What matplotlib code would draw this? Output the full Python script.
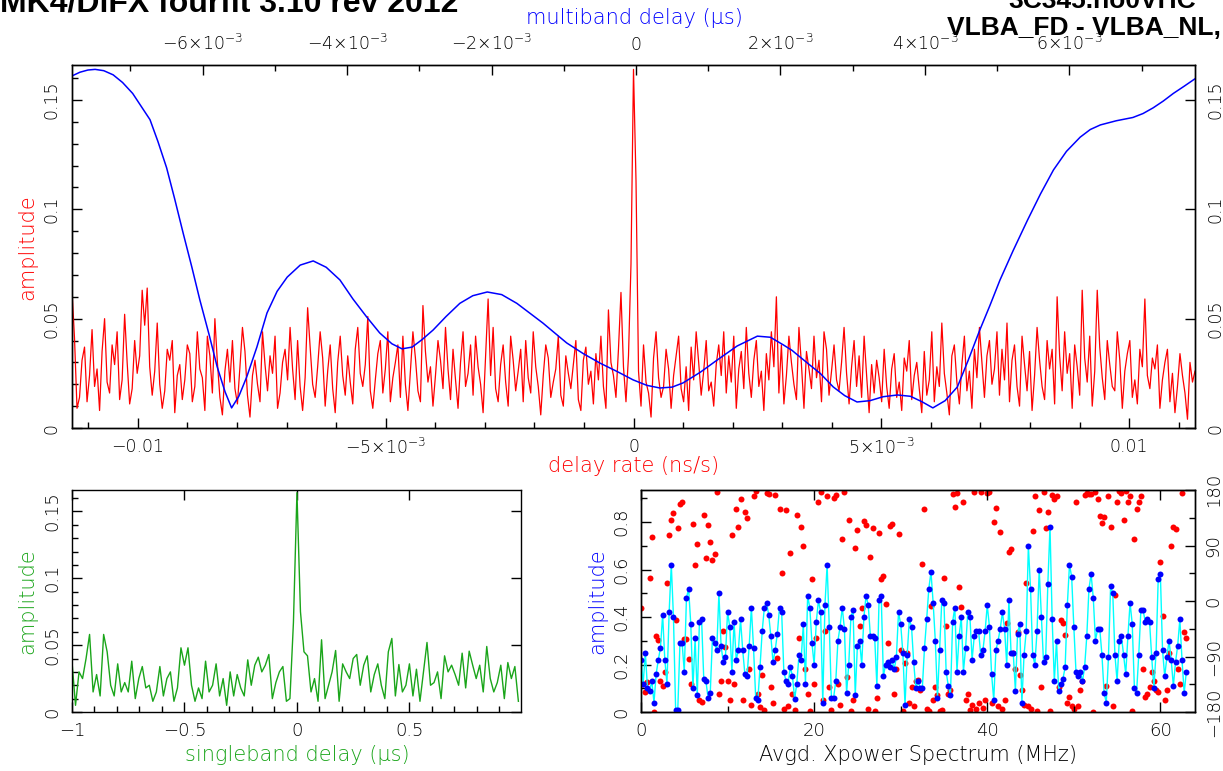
import numpy as np
import matplotlib
matplotlib.use("Agg")
import matplotlib.pyplot as plt
from matplotlib.ticker import MultipleLocator, FixedLocator, FixedFormatter, FuncFormatter

W, H = 1223, 771
FONT = "DejaVu Sans"
RED, BLUE, GREEN, CYAN = "#ff0000", "#0000ff", "#1aa51a", "#00ffff"

# delay-rate spectrum amplitude (x1000), evenly sampled across +/- rate_lim ns/s
rate_lim = 0.01133
rate_amp_milli = [
    63, 41, 9, 14, 31, 37, 12, 24, 45, 19, 27, 8, 35, 50, 21, 16,
    38, 29, 44, 13, 22, 52, 30, 11, 18, 40, 25, 33, 63, 47, 64, 28,
    15, 26, 48, 20, 9, 17, 36, 31, 40, 7, 24, 29, 13, 22, 38, 34,
    12, 19, 44, 27, 23, 8, 42, 33, 16, 50, 30, 14, 6, 26, 36, 21,
    40, 18, 11, 28, 46, 35, 15, 5, 24, 31, 20, 12, 44, 29, 17, 33,
    25, 42, 9, 16, 30, 36, 22, 46, 27, 13, 40, 19, 8, 23, 55, 37,
    20, 14, 28, 44, 32, 10, 26, 38, 18, 7, 30, 42, 24, 15, 33, 21,
    11, 36, 46, 25, 19, 29, 51, 17, 9, 22, 34, 40, 16, 27, 44, 12,
    23, 30, 38, 14, 42, 20, 8, 26, 44, 32, 17, 12, 56, 35, 21, 28,
    10, 24, 40, 31, 18, 46, 27, 13, 36, 22, 9, 30, 44, 19, 25, 38,
    15, 42, 28, 20, 7, 33, 59, 24, 46, 18, 12, 29, 38, 21, 10, 42,
    31, 17, 26, 36, 12, 40, 23, 16, 44, 28, 19, 6, 24, 38, 32, 14,
    21, 27, 42, 15, 10, 33, 25, 18, 29, 40, 13, 8, 31, 37, 20, 26,
    11, 34, 22, 42, 19, 9, 54, 30, 24, 14, 36, 62, 28, 12, 33, 75,
    164, 113, 26, 10, 38, 21, 16, 5, 32, 44, 23, 14, 19, 36, 27, 9,
    24, 33, 42, 18, 12, 28, 8, 37, 22, 44, 30, 15, 26, 40, 17, 21,
    10, 29, 38, 24, 44, 16, 33, 21, 42, 9, 27, 35, 18, 46, 25, 14,
    31, 40, 19, 26, 8, 34, 22, 44, 28, 60, 16, 38, 11, 24, 42, 30,
    20, 13, 46, 29, 9, 35, 27, 18, 42, 23, 31, 12, 44, 36, 15, 26,
    38, 22, 17, 30, 46, 25, 11, 28, 40, 19, 33, 14, 42, 24, 7, 29,
    16, 31, 23, 12, 36, 19, 9, 27, 34, 14, 21, 8, 32, 26, 40, 13,
    24, 30, 18, 7, 35, 15, 22, 44, 12, 28, 19, 48, 25, 16, 6, 33,
    38, 21, 11, 29, 42, 17, 26, 9, 36, 23, 46, 30, 14, 33, 40, 20,
    27, 44, 15, 36, 22, 48, 12, 31, 38, 19, 10, 42, 29, 17, 35, 8,
    24, 46, 31, 19, 13, 40, 27, 36, 11, 60, 33, 17, 44, 25, 34, 9,
    38, 28, 15, 63, 32, 21, 42, 10, 26, 63, 37, 23, 13, 40, 29, 19,
    17, 44, 31, 9, 26, 34, 40, 14, 22, 11, 36, 28, 59, 24, 18, 32,
    27, 38, 9, 22, 30, 36, 12, 25, 7, 19, 34, 24, 16, 4, 30, 21,
    26,
]

# multiband delay function (ms of us -> written in us, amplitude)
mbd_us = [
    -7.81e-3, -7.70e-3, -7.59e-3, -7.49e-3, -7.37e-3, -7.24e-3, -7.11e-3, -6.97e-3,
    -6.86e-3, -6.73e-3, -6.62e-3, -6.50e-3, -6.39e-3, -6.27e-3, -6.15e-3, -6.04e-3,
    -5.91e-3, -5.80e-3, -5.69e-3, -5.60e-3, -5.50e-3, -5.39e-3, -5.25e-3, -5.11e-3,
    -4.97e-3, -4.83e-3, -4.65e-3, -4.47e-3, -4.29e-3, -4.10e-3, -3.92e-3, -3.73e-3,
    -3.55e-3, -3.38e-3, -3.24e-3, -3.10e-3, -2.96e-3, -2.81e-3, -2.63e-3, -2.44e-3,
    -2.26e-3, -2.06e-3, -1.86e-3, -1.65e-3, -1.47e-3, -1.29e-3, -1.12e-3, -0.96e-3,
    -0.73e-3, -0.50e-3, -0.26e-3, -0.04e-3, 0.15e-3, 0.33e-3, 0.50e-3, 0.65e-3,
    0.89e-3, 1.12e-3, 1.40e-3, 1.68e-3, 1.86e-3, 2.04e-3, 2.16e-3, 2.27e-3,
    2.41e-3, 2.55e-3, 2.73e-3, 2.89e-3, 3.06e-3, 3.24e-3, 3.42e-3, 3.62e-3,
    3.80e-3, 3.96e-3, 4.11e-3, 4.28e-3, 4.45e-3, 4.60e-3, 4.76e-3, 4.90e-3,
    5.04e-3, 5.22e-3, 5.42e-3, 5.60e-3, 5.78e-3, 5.96e-3, 6.15e-3, 6.29e-3,
    6.43e-3, 6.65e-3, 6.88e-3, 7.02e-3, 7.16e-3, 7.30e-3, 7.44e-3, 7.59e-3,
    7.74e-3,
]
mbd_amp = [
    0.161, 0.1627, 0.1637, 0.164, 0.1634, 0.1615, 0.158, 0.153,
    0.1475, 0.141, 0.131, 0.119, 0.105, 0.089, 0.0735, 0.0586,
    0.0425, 0.028, 0.0165, 0.0092, 0.0145, 0.0234, 0.037, 0.0526,
    0.0625, 0.069, 0.0745, 0.0764, 0.0735, 0.0677, 0.059, 0.0508,
    0.0435, 0.0385, 0.0362, 0.037, 0.0405, 0.0448, 0.051, 0.057,
    0.0605, 0.0622, 0.061, 0.057, 0.0525, 0.048, 0.0433, 0.0389,
    0.034, 0.0297, 0.0258, 0.022, 0.0195, 0.0183, 0.0187, 0.0206,
    0.0255, 0.031, 0.0375, 0.042, 0.0415, 0.038, 0.0355, 0.0325,
    0.0287, 0.025, 0.0188, 0.0148, 0.0119, 0.0125, 0.0143, 0.0151,
    0.0145, 0.012, 0.0092, 0.0125, 0.0188, 0.031, 0.0448, 0.056,
    0.0677, 0.081, 0.095, 0.107, 0.118, 0.1265, 0.133, 0.1365,
    0.1386, 0.1405, 0.142, 0.1438, 0.1464, 0.1495, 0.153, 0.1563,
    0.1597,
]

# singleband delay function, 128 lags from -1 us
sbd_amp = [
    0.0375, 0.005, 0.030, 0.025, 0.040, 0.058, 0.015, 0.028,
    0.012, 0.058, 0.045, 0.020, 0.012, 0.036, 0.015, 0.022,
    0.015, 0.038, 0.010, 0.025, 0.034, 0.018, 0.020, 0.008,
    0.015, 0.034, 0.012, 0.025, 0.030, 0.008, 0.018, 0.048,
    0.035, 0.048, 0.020, 0.008, 0.018, 0.010, 0.038, 0.015,
    0.020, 0.036, 0.012, 0.025, 0.005, 0.030, 0.012, 0.028,
    0.018, 0.012, 0.039, 0.020, 0.035, 0.041, 0.030, 0.035,
    0.043, 0.010, 0.022, 0.030, 0.034, 0.008, 0.010, 0.067,
    0.164, 0.075, 0.045, 0.042, 0.015, 0.025, 0.008, 0.054,
    0.010, 0.020, 0.030, 0.046, 0.008, 0.036, 0.030, 0.025,
    0.040, 0.043, 0.020, 0.035, 0.042, 0.015, 0.028, 0.036,
    0.020, 0.010, 0.045, 0.055, 0.012, 0.0355, 0.015, 0.020,
    0.036, 0.012, 0.032, 0.008, 0.030, 0.052, 0.020, 0.022,
    0.030, 0.010, 0.042, 0.030, 0.035, 0.028, 0.020, 0.044,
    0.018, 0.0455, 0.035, 0.025, 0.035, 0.015, 0.049, 0.025,
    0.015, 0.022, 0.035, 0.010, 0.037, 0.025, 0.034, 0.008,
]

# averaged cross-power spectrum, 0.25 MHz channels
xp_step_mhz = 0.25
xp_amp = [
    0.22, 0.12, 0.25, 0.10, 0.09, 0.13, 0.04, 0.16, 0.22, 0.27, 0.41, 0.22, 0.12, 0.42, 0.62, 0.40,
    0.01, 0.01, 0.29, 0.29, 0.17, 0.48, 0.52, 0.37, 0.10, 0.31, 0.07, 0.38, 0.39, 0.14, 0.13, 0.06,
    0.08, 0.31, 0.29, 0.26, 0.50, 0.28, 0.21, 0.23,
    0.42, 0.36, 0.17, 0.38, 0.22, 0.26, 0.39, 0.26, 0.16, 0.15,
    0.28, 0.44, 0.27, 0.06, 0.05, 0.19, 0.34, 0.44, 0.46, 0.41,
    0.32, 0.21, 0.26, 0.33, 0.44, 0.42, 0.17, 0.13, 0.12, 0.19,
    0.15, 0.055, 0.12, 0.24, 0.22, 0.37, 0.12, 0.49, 0.44, 0.29,
    0.20, 0.38, 0.47, 0.42, 0.04, 0.45, 0.62, 0.36, 0.06, 0.06,
    0.13, 0.30, 0.36, 0.44, 0.35, 0.08, 0.20, 0.40, 0.43, 0.07,
    0.28, 0.30, 0.20, 0.40, 0.49, 0.45, 0.32, 0.32, 0.31, 0.11,
    0.47, 0.49, 0.15, 0.20, 0.21, 0.19, 0.22, 0.18, 0.23, 0.42,
    0.37, 0.25, 0.03, 0.24, 0.39, 0.36, 0.21, 0.10, 0.13, 0.10,
    0.10, 0.27, 0.39, 0.52, 0.59, 0.46, 0.30, 0.06, 0.26, 0.47,
    0.46, 0.17, 0.11, 0.07, 0.38, 0.44, 0.17, 0.32, 0.40, 0.17,
    0.27, 0.42, 0.40, 0.22, 0.32, 0.34, 0.34, 0.24, 0.26, 0.34,
    0.45, 0.36, 0.16, 0.05, 0.26, 0.30, 0.35, 0.42, 0.35, 0.20,
    0.47, 0.25, 0.25, 0.09, 0.33, 0.37, 0.04, 0.24, 0.34, 0.70,
    0.52, 0.24, 0.20, 0.34, 0.60, 0.40, 0.21, 0.23, 0.54, 0.78,
    0.39, 0.13, 0.30, 0.09, 0.12, 0.14, 0.19, 0.45, 0.62, 0.57,
    0.36, 0.17, 0.15, 0.17, 0.13, 0.19, 0.32, 0.52, 0.58, 0.48,
    0.30, 0.35, 0.35, 0.24, 0.08, 0.04, 0.23, 0.53, 0.50, 0.24,
    0.13, 0.30, 0.32, 0.24, 0.16, 0.32, 0.46, 0.37, 0.10, 0.08,
    0.24, 0.43, 0.43, 0.38, 0.39, 0.38, 0.23, 0.10, 0.25, 0.56,
    0.58, 0.26, 0.15, 0.23, 0.30, 0.22, 0.11, 0.21, 0.28, 0.39,
    0.22, 0.08, 0.17,
]
xp_phase = [
    -12, -134, -147, -131, 37, 103, -180, -56, -64, -130, -138, -115, 29, 107, 132, 143,
    -30, 119, 158, 160, -61, -61, -94, -134, 125, 58, 93, -160, -163, 140, 69, 124,
    96, 66, 76, 176, -150, -130, -49, -74, -130, -160, 107, -135, 150, 120, 165, -160,
    145, 134, -110, -168, 170, 178, -150, -172, -120, -176, 175, 174, -140, -165, 172, -92,
    150, 45, -175, 148, -170, 78, -150, -176, 140, -60, 120, 90, -110, -150, -179, 35,
    -135, -60, 160, 177, -160, -48, 170, -140, -176, 167, 172, -135, -169, 100, 176, -124,
    131, -178, -160, 86, 115, -40, -12, 130, 124, -175, 71, 119, -179, -158, 110, 36,
    40, -5, -68, 122, 125, -150, -110, 108, -80, -178, -100, -85, -165, -140, -170, -130,
    -128, -145, 60, 150, -175, -178, -8, -160, -140, -153, -178, -176, 38, -40, -150, -145,
    173, 152, 175, 22, -10, 160, -160, -150, -177, -168, 176, -175, -165, 176, -174, -160,
    175, 177, -165, 128, 151, -170, 112, -175, -160, -35, 80, 85, -85, -110, -50, -120,
    -145, -168, 30, -170, -175, 114, 170, -178, 148, -140, 176, 118, 144, -178, 172, 165,
    170, -140, -30, -35, -55, -165, -155, -170, -175, 160, -170, -145, -130, 172, 175, 173,
    174, -180, 176, 165, 138, 127, 136, -138, 170, 120, -170, 10, 160, 178, 175, 132,
    178, 160, 170, -178, 100, 150, 160, 170, -110, -155, -150, -140, -115, -130, -145, -148,
    63, -25, -160, -145, -85, 90, 120, 116, -110, -135, 175, -50, -60,
]

plt.rcParams["font.family"] = [FONT]
plt.rcParams["font.weight"] = "light"
plt.rcParams["mathtext.fontset"] = "dejavusans"
plt.rcParams["axes.linewidth"] = 1.0


def axes_px(x0, y0, x1, y1):
    return [x0 / W, 1 - y1 / H, (x1 - x0) / W, (y1 - y0) / H]


def ftext(x, y, s, **kw):
    fig.text(x / W, 1 - y / H, s, **kw)


def sci(v):
    return "$\\mathregular{%s}$" % v


def plain(v, p=None):
    return ("%g" % v).replace("-", "\u2212")


def style_ticks(ax, major=7, minor=4, size=12.5):
    ax.tick_params(which="both", direction="in", width=1.0, labelsize=size)
    ax.tick_params(which="major", length=major)
    ax.tick_params(which="minor", length=minor)


def upright_ylabels(ax):
    for lab in ax.get_yticklabels():
        lab.set_va("center")


fig = plt.figure(figsize=(W / 100, H / 100), dpi=100)

# ---- delay rate / multiband delay ----
ax = fig.add_axes(axes_px(72, 65, 1195, 428))
rate = np.linspace(-rate_lim, rate_lim, len(rate_amp_milli))
ax.plot(rate, np.array(rate_amp_milli) / 1000.0, color=RED, lw=0.9)
ax.set_xlim(-rate_lim, rate_lim)
ax.set_ylim(0, 0.166)
ax.xaxis.set_major_locator(FixedLocator([-0.01, -0.005, 0, 0.005, 0.01]))
ax.xaxis.set_major_formatter(FixedFormatter(["\u22120.01", sci("-5{\\times}10^{-3}"), "0",
                                             sci("5{\\times}10^{-3}"), "0.01"]))
ax.xaxis.set_minor_locator(MultipleLocator(0.001))
ax.yaxis.set_major_locator(MultipleLocator(0.05))
ax.yaxis.set_minor_locator(MultipleLocator(0.01))
ax.yaxis.set_major_formatter(FuncFormatter(plain))
style_ticks(ax)
ax.tick_params(axis="x", top=False, bottom=True, pad=7)
ax.tick_params(axis="y", left=True, right=True, labelleft=True, labelright=True,
               labelrotation=90, pad=8)
upright_ylabels(ax)

axm = ax.twiny()
axm.plot(mbd_us, mbd_amp, color=BLUE, lw=1.1)
axm.set_xlim(-7.81e-3, 7.74e-3)
axm.xaxis.set_major_locator(FixedLocator([-6e-3, -4e-3, -2e-3, 0, 2e-3, 4e-3, 6e-3]))
axm.xaxis.set_major_formatter(FixedFormatter([
    sci("-6{\\times}10^{-3}"), sci("-4{\\times}10^{-3}"), sci("-2{\\times}10^{-3}"), "0",
    sci("2{\\times}10^{-3}"), sci("4{\\times}10^{-3}"), sci("6{\\times}10^{-3}")]))
axm.xaxis.set_minor_locator(MultipleLocator(0.001))
style_ticks(axm)
axm.tick_params(axis="x", top=True, bottom=False, labeltop=True, labelbottom=False, pad=8)

ftext(634, 18, "multiband delay (\u03bcs)", color=BLUE, fontsize=15, ha="center", va="center")
ftext(634, 466, "delay rate (ns/s)", color=RED, fontsize=15, ha="center", va="center")
ftext(27, 247, "amplitude", color=RED, fontsize=15, ha="center", va="center", rotation=90)

# ---- singleband delay ----
axs = fig.add_axes(axes_px(72, 490, 521, 712))
sbd = np.linspace(-1, 1, len(sbd_amp) + 1)[:-1]
axs.plot(sbd, sbd_amp, color=GREEN, lw=1.0)
axs.set_xlim(-1, 0.996)
axs.set_ylim(0, 0.166)
axs.xaxis.set_major_locator(MultipleLocator(0.5))
axs.xaxis.set_minor_locator(MultipleLocator(0.1))
axs.xaxis.set_major_formatter(FuncFormatter(plain))
axs.yaxis.set_major_locator(MultipleLocator(0.05))
axs.yaxis.set_minor_locator(MultipleLocator(0.01))
axs.yaxis.set_major_formatter(FuncFormatter(plain))
style_ticks(axs, size=13)
axs.tick_params(top=True, right=True)
axs.tick_params(axis="x", pad=7)
axs.tick_params(axis="y", labelrotation=90, pad=8)
upright_ylabels(axs)
ftext(297, 755, "singleband delay (\u03bcs)", color=GREEN, fontsize=15, ha="center", va="center")
ftext(27, 601, "amplitude", color=GREEN, fontsize=15, ha="center", va="center", rotation=90)

# ---- cross-power spectrum: phase behind, amplitude in front ----
axp = fig.add_axes(axes_px(641, 490, 1195, 712))
axph = axp.twinx()
freq = np.arange(len(xp_amp)) * xp_step_mhz
axph.plot(freq, xp_phase, "o", color=RED, ms=4.3, mec="none")
axph.set_ylim(-180, 180)
axph.yaxis.set_major_locator(MultipleLocator(90))
axph.yaxis.set_minor_locator(MultipleLocator(45))
axph.yaxis.set_major_formatter(FuncFormatter(plain))
style_ticks(axph, size=13)
axph.tick_params(axis="y", labelrotation=90, pad=7)
upright_ylabels(axph)

axp.set_zorder(axph.get_zorder() + 1)
axp.patch.set_visible(False)
axp.plot(freq, xp_amp, "-", color=CYAN, lw=1.0)
axp.plot(freq, xp_amp, "o", color=BLUE, ms=4.3, mec="none")
axp.set_xlim(0, 64)
axp.set_ylim(0, 0.935)
axp.xaxis.set_major_locator(MultipleLocator(20))
axp.xaxis.set_minor_locator(MultipleLocator(10))
axp.yaxis.set_major_locator(MultipleLocator(0.2))
axp.yaxis.set_minor_locator(MultipleLocator(0.1))
axp.yaxis.set_major_formatter(FuncFormatter(plain))
style_ticks(axp, size=13)
axp.tick_params(axis="x", top=True, pad=7)
axp.tick_params(axis="y", labelrotation=90, pad=8)
upright_ylabels(axp)
ftext(918, 755, "Avgd. Xpower Spectrum (MHz)", color="black", fontsize=15, ha="center", va="center")
ftext(597, 601, "amplitude", color=BLUE, fontsize=15, ha="center", va="center", rotation=90)

# ---- header ----
hdr = dict(family="Liberation Sans", weight="bold", fontsize=23, va="baseline", color="black")
ftext(0, 11, "MK4/DiFX fourfit 3.10 rev 2012", **hdr)
hdr["fontsize"] = 19
ftext(1008, 8, "3C345.no0VHC", **hdr)
ftext(947, 35, "VLBA_FD - VLBA_NL,", **hdr)

fig.savefig("out.png", dpi=100)
